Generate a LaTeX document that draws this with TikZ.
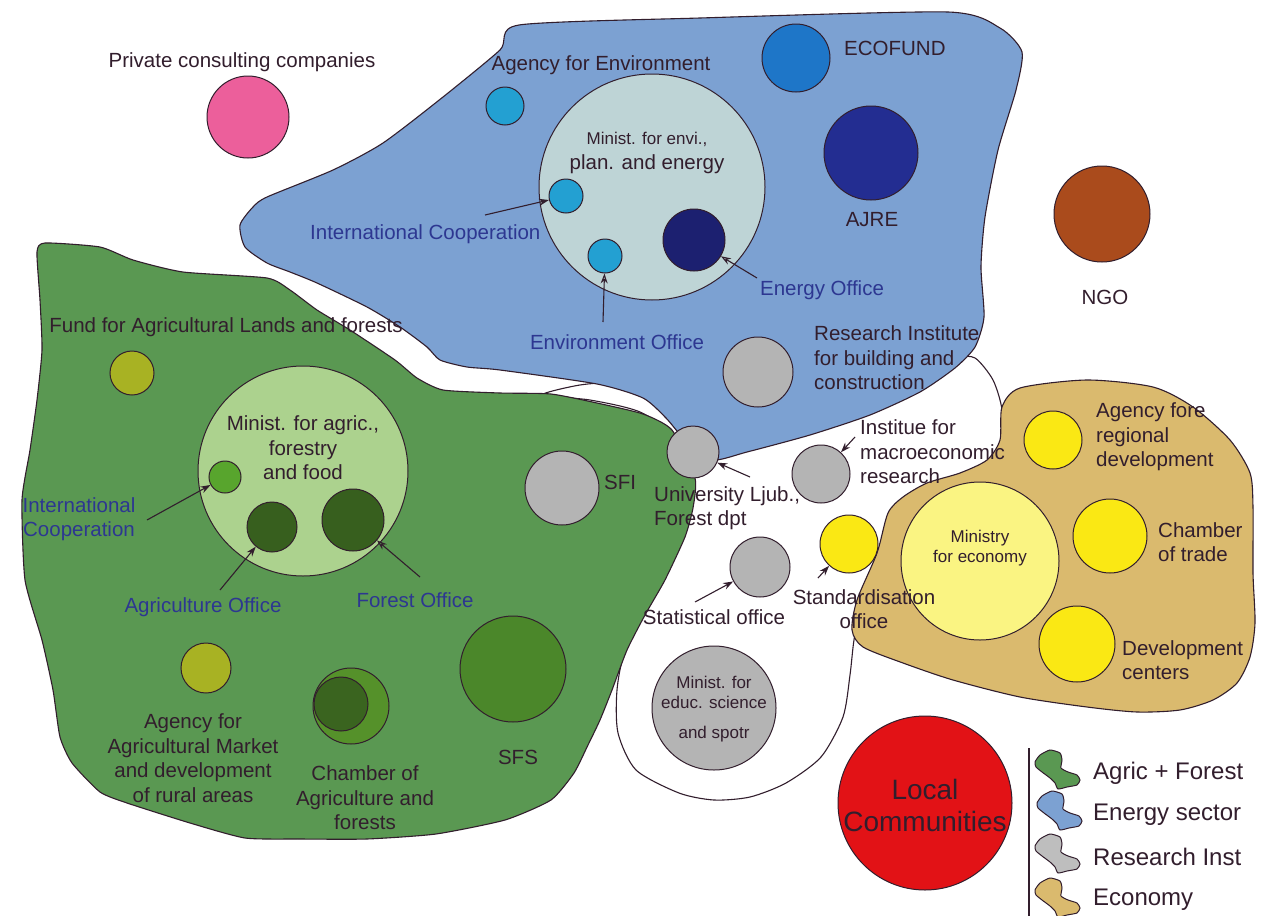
\documentclass[tikz,border=0pt]{standalone}
\usepackage{fontspec}
\setmainfont{Liberation Sans}
\usetikzlibrary{arrows.meta}
\definecolor{ink}{RGB}{50,30,45}
\definecolor{bluetxt}{RGB}{45,55,145}
\definecolor{agrgreen}{RGB}{90,152,82}
\definecolor{energyblue}{RGB}{124,161,210}
\definecolor{econtan}{RGB}{218,186,110}
\definecolor{resgrey}{RGB}{190,190,190}
\definecolor{circgrey}{RGB}{180,180,180}
\definecolor{pinkc}{RGB}{236,95,155}
\definecolor{cyanc}{RGB}{35,160,210}
\definecolor{ecoblue}{RGB}{30,118,200}
\definecolor{ajreblue}{RGB}{35,45,145}
\definecolor{navyc}{RGB}{28,32,112}
\definecolor{paleenv}{RGB}{190,212,214}
\definecolor{brownc}{RGB}{170,75,28}
\definecolor{olivec}{RGB}{168,178,35}
\definecolor{palegreen}{RGB}{172,210,142}
\definecolor{midgreen}{RGB}{88,165,45}
\definecolor{darkgreen}{RGB}{55,95,30}
\definecolor{sfsgreen}{RGB}{75,135,42}
\definecolor{chambgreen}{RGB}{85,145,42}
\definecolor{yellowc}{RGB}{250,232,20}
\definecolor{paleyellow}{RGB}{250,244,130}
\definecolor{redc}{RGB}{226,18,22}
\tikzset{
  region/.style={draw=ink, line width=1.1pt},
  circ/.style={circle, draw=ink, line width=1pt, inner sep=0pt},
  lbl/.style={text=ink, font=\fontsize{20.5}{24.5}\selectfont, inner sep=0pt},
  bluelbl/.style={lbl, text=bluetxt},
  smalllbl/.style={text=ink, font=\fontsize{17}{20.5}\selectfont, inner sep=0pt},
  leglbl/.style={text=ink, font=\fontsize{24}{28}\selectfont, inner sep=0pt, anchor=west},
  arr/.style={draw=ink, line width=1.1pt, -{Stealth[length=10pt,width=7pt]}},
  arro/.style={draw=ink, line width=1.1pt, -{Stealth[open,length=10pt,width=7pt]}},
  blob/.pic={\draw[pic actions, line width=1pt] plot[smooth cycle, tension=0.35] coordinates {(2,12) (7,5) (17,0) (27,3) (29,10) (28,18) (35,22) (44,25) (47,30) (44,35) (34,37) (25,39) (22,33) (17,28) (9,22) (3,17)};}
}
\begin{document}
\begin{tikzpicture}[x=1pt, y=-1pt]
\useasboundingbox[fill=white] (0,0) rectangle (1262,916);

% ---------- regions ----------
% research (white)
\draw[region, fill=white] plot[smooth cycle, tension=0.45] coordinates {
 (542,395) (580,385) (620,383) (700,392) (800,400) (900,372) (955,358) (975,358)
 (993,380) (1002,410) (1000,445) (975,472) (930,505) (885,545) (862,600)
 (854,640) (850,675) (843,717) (821,757) (786,783) (750,797) (714,800)
 (679,793) (636,770) (618,733) (617,690) (625,650) (650,590) (680,530)
 (694,480) (680,440) (640,412) (590,400)};
% economy (tan)
\draw[region, fill=econtan] plot[smooth cycle, tension=0.45] coordinates {
 (1002,407) (1020,388) (1087,380) (1153,387) (1193,407) (1230,440) (1250,473)
 (1253,507) (1253,573) (1255,623) (1250,657) (1237,683) (1213,700) (1180,710)
 (1137,712) (1087,707) (1020,697) (953,680) (903,663) (863,647) (852,630)
 (857,600) (877,553) (888,513) (903,497) (927,483) (960,473) (987,460) (1000,440)};
% agric + forest (green)
\draw[region, fill=agrgreen] plot[smooth cycle, tension=0.35] coordinates {
 (45,243) (100,247) (133,260) (183,272) (267,278) (290,290) (317,310) (350,330)
 (395,360) (417,378) (443,390) (500,393) (551,394) (597,403) (643,414) (672,430)
 (695,478) (693,508) (685,537) (665,580) (645,615) (627,650) (612,690) (600,720)
 (588,745) (574,773) (551,800) (505,820) (436,834) (367,839) (300,839) (245,838)
 (190,823) (127,803) (100,792) (72,763) (60,737) (53,690) (42,640) (25,580)
 (22,500) (30,450) (37,400) (42,350) (40,300) (37,252)};
% energy sector (blue)
\draw[region, fill=energyblue] plot[smooth cycle, tension=0.4] coordinates {
 (519,25) (700,18) (948,12) (1000,28) (1022,52) (1016,90) (998,150) (985,217)
 (981,267) (984,317) (975,347) (955,368) (920,392) (870,415) (810,435) (747,452)
 (712,460) (685,440) (666,418) (643,398) (597,384) (500,370) (467,367) (440,360)
 (427,347) (400,327) (367,307) (317,283) (290,272) (267,263) (245,247) (240,225)
 (253,207) (267,197) (333,170) (383,143) (443,97) (500,50)};

% ---------- circles ----------
\node[circ, fill=pinkc, minimum size=82pt] (pcc) at (248,117) {};
\node[circ, fill=cyanc, minimum size=38pt] (agenv) at (505,106) {};
\node[circ, fill=paleenv, minimum size=226pt] (minenv) at (652,187) {};
\node[circ, fill=cyanc, minimum size=34pt] (icenv) at (566,196) {};
\node[circ, fill=cyanc, minimum size=34pt] (envoff) at (605,256) {};
\node[circ, fill=navyc, minimum size=62pt] (energy) at (694,240) {};
\node[circ, fill=ecoblue, minimum size=68pt] (ecofund) at (796,58) {};
\node[circ, fill=ajreblue, minimum size=94pt] (ajre) at (871,153) {};
\node[circ, fill=brownc, minimum size=96pt] (ngo) at (1102,214) {};
\node[circ, fill=circgrey, minimum size=70pt] (rib) at (758,372) {};

\node[circ, fill=olivec, minimum size=44pt] (fund) at (132,373) {};
\node[circ, fill=palegreen, minimum size=210pt] (minagr) at (303,471) {};
\node[circ, fill=midgreen, minimum size=32pt] (icagr) at (225,477) {};
\node[circ, fill=darkgreen, minimum size=50pt] (agroff) at (272,527) {};
\node[circ, fill=darkgreen, minimum size=62pt] (foroff) at (353,520) {};
\node[circ, fill=circgrey, minimum size=74pt] (sfi) at (562,488) {};
\node[circ, fill=olivec, minimum size=50pt] (aam) at (206,668) {};
\node[circ, fill=chambgreen, minimum size=76pt] (chamb) at (351,706) {};
\node[circ, fill=darkgreen!90!chambgreen, minimum size=54pt] (chambin) at (341,704) {};
\node[circ, fill=sfsgreen, minimum size=106pt] (sfs) at (513,669) {};

\node[circ, fill=circgrey, minimum size=52pt] (univ) at (693,452) {};
\node[circ, fill=circgrey, minimum size=58pt] (inst) at (821,474) {};
\node[circ, fill=circgrey, minimum size=60pt] (stat) at (760,567) {};
\node[circ, fill=yellowc, minimum size=58pt] (std) at (849,544) {};
\node[circ, fill=circgrey, minimum size=124pt] (mined) at (714,708) {};

\node[circ, fill=yellowc, minimum size=58pt] (agreg) at (1053,440) {};
\node[circ, fill=paleyellow, minimum size=158pt] (mineco) at (980,561) {};
\node[circ, fill=yellowc, minimum size=74pt] (chtrade) at (1110,536) {};
\node[circ, fill=yellowc, minimum size=76pt] (devc) at (1077,644) {};
\node[circ, fill=redc, minimum size=174pt] (local) at (925,803) {};

% ---------- labels ----------
\node[lbl] (tpcc) at (242,62) {Private consulting companies};
\node[lbl] (tagenv) at (601,65) {Agency for Environment};
\node[lbl, anchor=west] (tecofund) at (844,48) {ECOFUND};
\node[lbl, align=center] (tminenv) at (647,153) {\fontsize{17}{24.5}\selectfont Minist. for envi.,\\\fontsize{20.5}{24.5}\selectfont plan. and energy};
\node[lbl] (tajre) at (872,220) {AJRE};
\node[lbl] (tngo) at (1105,297) {NGO};
\node[bluelbl, anchor=west] (ticenv) at (310,234) {International Cooperation};
\node[bluelbl] (tenergy) at (822,290) {Energy Office};
\node[bluelbl] (tenvoff) at (617,342) {Environment Office};
\node[lbl, anchor=west, align=left] (trib) at (814,358) {Research Institute\\for building and\\construction};

\node[lbl] (tfund) at (226,327) {Fund for Agricultural Lands and forests};
\node[lbl, align=center] (tminagr) at (303,448) {Minist. for agric.,\\forestry\\and food};
\node[bluelbl, align=center] (ticagr) at (79,519) {International\\Cooperation};
\node[bluelbl] (tagroff) at (203,607) {Agriculture Office};
\node[bluelbl] (tforoff) at (415,600) {Forest Office};
\node[lbl, anchor=west] (tsfi) at (604,482) {SFI};
\node[lbl, align=center] (taam) at (193,758) {Agency for\\Agricultural Market\\and development\\of rural areas};
\node[lbl, align=center] (tchamb) at (365,798) {Chamber of\\Agriculture and\\forests};
\node[lbl] (tsfs) at (518,757) {SFS};

\node[lbl, anchor=west, align=left] (tuniv) at (654,508) {University Ljub.,\\Forest dpt};
\node[lbl, anchor=west, align=left] (tinst) at (860,452) {Institue for\\macroeconomic\\research};
\node[lbl] (tstat) at (714,617) {Statistical office};
\node[lbl, align=center] (tstd) at (864,609) {Standardisation\\office};
\node[smalllbl, align=center] (tmined) at (714,709) {Minist. for\\educ. science\\[9pt]and spotr};

\node[lbl, anchor=west, align=left] (tagreg) at (1096,437) {Agency fore\\regional\\development};
\node[smalllbl, align=center] (tmineco) at (980,548) {Ministry\\for economy};
\node[lbl, anchor=west, align=left] (tchtrade) at (1158,542) {Chamber\\of trade};
\node[lbl, anchor=west, align=left] (tdevc) at (1122,660) {Development\\centers};
\node[text=ink, font=\fontsize{28}{32}\selectfont, inner sep=0pt, align=center] (tlocal) at (925,805) {Local\\Communities};

% ---------- arrows ----------
\coordinate (aicenv) at (485,215);
\coordinate (aenergy) at (757,278);
\coordinate (aenvoff) at (603,322);
\coordinate (aicagr) at (147,520);
\coordinate (aagroff) at (220,590);
\coordinate (aforoff) at (420,577);
\coordinate (auniv) at (750,477);
\coordinate (ainst) at (855,437);
\coordinate (astat) at (695,602);
\coordinate (astd) at (818,578);
\draw[arr] (aicenv) -- (icenv);
\draw[arro] (aenergy) -- (energy);
\draw[arro] (aenvoff) -- (envoff);
\draw[arr] (aicagr) -- (icagr);
\draw[arr] (aagroff) -- (agroff);
\draw[arro] (aforoff) -- (foroff);
\draw[arr] (auniv) -- (univ);
\draw[arr] (ainst) -- (inst);
\draw[arr] (astat) -- (stat);
\draw[arr] (astd) -- (std);

% ---------- legend ----------
\coordinate (legtop) at (1029,748);
\coordinate (legbot) at (1029,916);
\draw[ink, line width=1.3pt] (legtop) -- (legbot);
\path (1033,750) pic[fill=agrgreen, draw=ink] {blob};
\path (1035,791) pic[fill=energyblue, draw=ink] {blob};
\path (1033,834) pic[fill=resgrey, draw=ink] {blob};
\path (1033,878) pic[fill=econtan, draw=ink] {blob};
\node[leglbl] (lagr) at (1093,773) {Agric + Forest};
\node[leglbl] (lene) at (1093,815) {Energy sector};
\node[leglbl] (lres) at (1093,857) {Research Inst};
\node[leglbl] (leco) at (1093,900) {Economy};
\end{tikzpicture}
\end{document}
